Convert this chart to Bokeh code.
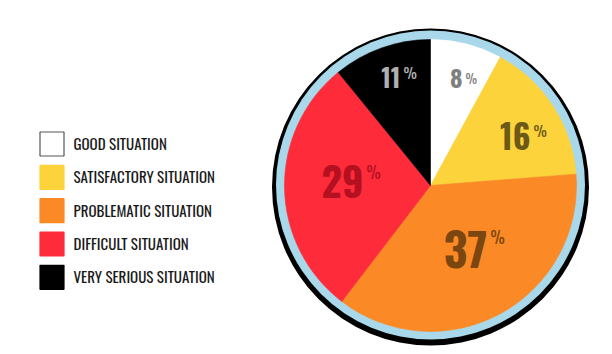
import numpy as np
from bokeh.plotting import figure
from bokeh.models import Range1d, ColumnDataSource
from bokeh.core.properties import value
from bokeh.embed import file_html
from bokeh.resources import INLINE

# ---- data ----
categories = ["GOOD SITUATION", "SATISFACTORY SITUATION", "PROBLEMATIC SITUATION",
              "DIFFICULT SITUATION", "VERY SERIOUS SITUATION"]
shares = [8, 16, 37, 29, 11]
slice_colors = ["#ffffff", "#fdd33b", "#fb8a26", "#fe2c3b", "#000000"]
label_colors = ["#7f7f7f", "#6b5a17", "#7c4610", "#b5101f", "#b0b0b0"]

# ---- layout / style (pixel space, y downward) ----
W, H = 612, 354
CX, CY, R = 430, 185, 146
FONT = "Oswald"
num_right = [462, 530, 487, 363, 400]
num_mid = [77.5, 135, 248.5, 181, 77]
num_size = [24, 33, 46, 40, 25]
pct_mid = [77, 129, 236.5, 171.5, 71]
pct_size = [13, 15, 16, 16, 15]

def Y(py):
    return H - py

p = figure(width=W, height=H, x_range=Range1d(0, W), y_range=Range1d(0, H),
           output_backend="svg", toolbar_location=None, min_border=0)
p.axis.visible = False
p.grid.visible = False
p.outline_line_color = None
p.background_fill_color = "white"
p.border_fill_color = "white"

# rings
p.circle(x=CX, y=Y(186.5), radius=158.5, fill_color="#000000", line_color=None)
p.circle(x=CX, y=Y(184.5), radius=154.5, fill_color="#a8d8ea", line_color=None)

# wedges
total = float(sum(shares))
cum = np.cumsum([0] + shares)
start = [np.pi / 2 - 2 * np.pi * cum[i] / total for i in range(len(shares))]
end = [np.pi / 2 - 2 * np.pi * cum[i + 1] / total for i in range(len(shares))]
src = ColumnDataSource(dict(start=start, end=end, color=slice_colors))
p.wedge(x=CX, y=Y(CY), radius=R, start_angle="start", end_angle="end",
        direction="clock", fill_color="color", line_color="color", line_width=0.6,
        source=src)

# slice labels
for i, v in enumerate(shares):
    p.text(x=[num_right[i]], y=[Y(num_mid[i])], text=[str(v)],
           text_font=value(FONT), text_font_style="bold",
           text_font_size=f"{num_size[i]}px", text_color=label_colors[i],
           text_align="right", text_baseline="middle")
    p.text(x=[num_right[i] + 3], y=[Y(pct_mid[i])], text=["%"],
           text_font=value(FONT), text_font_style="normal",
           text_font_size=f"{pct_size[i]}px", text_color=label_colors[i],
           text_align="left", text_baseline="middle")

# legend
rows = np.arange(len(categories))
sq_y = [Y(143.5 + 33.33 * r) for r in rows]
tx_y = [Y(142.5 + 33.33 * r) for r in rows]
line_cols = ["#555555"] + slice_colors[1:]
p.rect(x=51.5, y=sq_y, width=24, height=24, fill_color=slice_colors,
       line_color=line_cols, line_width=1.2)
p.text(x=73, y=tx_y, text=categories, text_font=value(FONT),
       text_font_size="15px", text_color="#1a1a1a",
       text_align="left", text_baseline="middle")

open("out.html", "w").write(file_html(p, INLINE))
